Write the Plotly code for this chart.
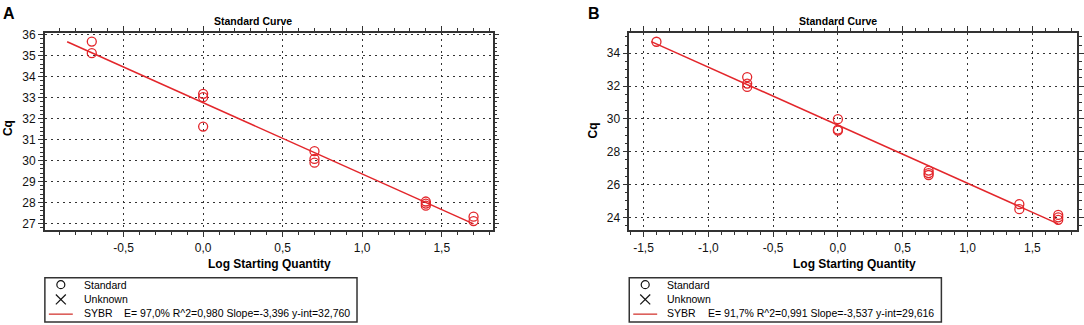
import plotly.graph_objects as go

W, H = 1084, 325

# ---------------- data ----------------
a_log_qty = [-0.7, -0.7, 0.0, 0.0, 0.0, 0.7, 0.7, 0.7, 1.4, 1.4, 1.4, 1.7, 1.7]
a_cq = [35.67, 35.12, 33.18, 33.02, 31.62, 30.45, 30.08, 29.90, 28.05, 27.95, 27.85, 27.33, 27.12]
a_slope, a_intercept = -3.396, 32.760
a_fit_x = [-0.855, 1.70]
a_label = "E= 97,0% R^2=0,980 Slope=-3,396 y-int=32,760"
a_xtick_vals = [-0.5, 0.0, 0.5, 1.0, 1.5]
a_xtick_text = ["-0,5", "0,0", "0,5", "1,0", "1,5"]

b_log_qty = [-1.4, -0.7, -0.7, -0.7, 0.0, 0.0, 0.0, 0.7, 0.7, 0.7, 1.4, 1.4, 1.7, 1.7, 1.7]
b_cq = [34.70, 32.55, 32.15, 31.95, 29.98, 29.35, 29.28, 26.85, 26.70, 26.58, 24.80, 24.50, 24.15, 24.00, 23.85]
b_slope, b_intercept = -3.537, 29.616
b_fit_x = [-1.44, 1.70]
b_label = "E= 91,7% R^2=0,991 Slope=-3,537 y-int=29,616"
b_xtick_vals = [-1.5, -1.0, -0.5, 0.0, 0.5, 1.0, 1.5]
b_xtick_text = ["-1,5", "-1,0", "-0,5", "0,0", "0,5", "1,0", "1,5"]

legend_names = ["Standard", "Unknown"]
fit_name = "SYBR"

RED = "#e3262b"
AX = "#333333"
FONT = "Liberation Sans, Arial, sans-serif"


def px(x):
    return x / W


def py(y):
    return 1 - y / H


fig = go.Figure()

# Panel A
fig.add_trace(go.Scatter(x=a_log_qty, y=a_cq, mode="markers", xaxis="x", yaxis="y",
                         marker=dict(symbol="circle-open", size=9, color=RED, line=dict(width=1.3)),
                         showlegend=False))
fig.add_trace(go.Scatter(x=a_fit_x, y=[a_intercept + a_slope * v for v in a_fit_x], mode="lines",
                         xaxis="x", yaxis="y", line=dict(color=RED, width=1.5), showlegend=False))
# Panel B
fig.add_trace(go.Scatter(x=b_log_qty, y=b_cq, mode="markers", xaxis="x2", yaxis="y2",
                         marker=dict(symbol="circle-open", size=9, color=RED, line=dict(width=1.3)),
                         showlegend=False))
fig.add_trace(go.Scatter(x=b_fit_x, y=[b_intercept + b_slope * v for v in b_fit_x], mode="lines",
                         xaxis="x2", yaxis="y2", line=dict(color=RED, width=1.5), showlegend=False))

common_axis = dict(showline=True, linecolor=AX, linewidth=1.5, mirror="allticks",
                   ticks="outside", ticklen=5, tickwidth=1.2, tickcolor=AX,
                   showgrid=True, gridcolor="#333333", griddash="2px,4px", gridwidth=1.2,
                   zeroline=False, tickfont=dict(family=FONT, size=12, color="#111"))

fig.update_layout(
    width=W, height=H, margin=dict(l=0, r=0, t=0, b=0),
    paper_bgcolor="white", plot_bgcolor="white", separators=",.",
    font=dict(family=FONT),
    xaxis=dict(domain=[px(45), px(494)], anchor="y", range=[-0.995, 1.82],
               tickmode="array", tickvals=a_xtick_vals, ticktext=a_xtick_text,
               minor=dict(dtick=0.1, tick0=0, ticks="outside", ticklen=3, tickcolor=AX, showgrid=False),
               **common_axis),
    yaxis=dict(domain=[py(229), py(28)], anchor="x", range=[26.67, 36.1], dtick=1,
               minor=dict(dtick=0.2, ticks="outside", ticklen=3, tickcolor=AX, showgrid=False),
               **common_axis),
    xaxis2=dict(domain=[px(631), px(1080)], anchor="y2", range=[-1.61, 1.845],
                tickmode="array", tickvals=b_xtick_vals, ticktext=b_xtick_text,
                minor=dict(dtick=0.1, tick0=0, ticks="outside", ticklen=3, tickcolor=AX, showgrid=False),
                **common_axis),
    yaxis2=dict(domain=[py(229), py(28)], anchor="x2", range=[23.2, 35.26], dtick=2,
                minor=dict(dtick=0.5, ticks="outside", ticklen=3, tickcolor=AX, showgrid=False),
                **common_axis),
)

ann = []
shapes = []


def add_text(x, y, text, size=11, bold=False, xanchor="left", textangle=0):
    t = f"<b>{text}</b>" if bold else text
    ann.append(dict(x=px(x), y=py(y), xref="paper", yref="paper", text=t, showarrow=False,
                    xanchor=xanchor, yanchor="middle", textangle=textangle,
                    font=dict(family=FONT, size=size, color="#000")))


panels = [
    dict(letter="A", lx=9, title_x=254, cq_x=8, cq_y=125, qty_x=270, box=(45, 358),
         sym_x=61, text_x=82, line=(49, 73), eq_x=122, label=a_label),
    dict(letter="B", lx=596, title_x=840, cq_x=595, cq_y=127, qty_x=857, box=(631, 944),
         sym_x=647, text_x=667, line=(635, 659), eq_x=708, label=b_label),
]

for p in panels:
    add_text(p["lx"], 9, p["letter"], size=16, bold=True, xanchor="center")
    add_text(p["title_x"], 16, "Standard Curve", size=10.5, bold=True, xanchor="center")
    add_text(p["cq_x"], p["cq_y"], "Cq", size=12, bold=True, xanchor="center", textangle=-90)
    add_text(p["qty_x"], 263, "Log Starting Quantity", size=12, bold=True, xanchor="center")
    # legend box
    x0, x1 = p["box"]
    shapes.append(dict(type="rect", xref="paper", yref="paper", x0=px(x0), x1=px(x1),
                       y0=py(322), y1=py(277), line=dict(color=AX, width=1.5)))
    # circle symbol
    sx = p["sym_x"]
    shapes.append(dict(type="circle", xref="paper", yref="paper", x0=px(sx - 4), x1=px(sx + 4),
                       y0=py(288), y1=py(280), line=dict(color="#111", width=1.2)))
    # X symbol
    shapes.append(dict(type="line", xref="paper", yref="paper", x0=px(sx - 5), x1=px(sx + 5),
                       y0=py(294), y1=py(304), line=dict(color="#111", width=1.2)))
    shapes.append(dict(type="line", xref="paper", yref="paper", x0=px(sx - 5), x1=px(sx + 5),
                       y0=py(304), y1=py(294), line=dict(color="#111", width=1.2)))
    # fit line symbol
    l0, l1 = p["line"]
    shapes.append(dict(type="line", xref="paper", yref="paper", x0=px(l0), x1=px(l1),
                       y0=py(314), y1=py(314), line=dict(color="#d9534f", width=1.5)))
    add_text(p["text_x"], 284, legend_names[0], size=10.5)
    add_text(p["text_x"], 299, legend_names[1], size=10.5)
    add_text(p["text_x"], 313, fit_name, size=10.5)
    add_text(p["eq_x"], 313, p["label"], size=10.5)

fig.update_layout(annotations=ann, shapes=shapes)

fig.write_html("out.html", config={"displayModeBar": False},
               post_script="document.body.style.margin='0px';document.body.style.overflow='hidden';")
